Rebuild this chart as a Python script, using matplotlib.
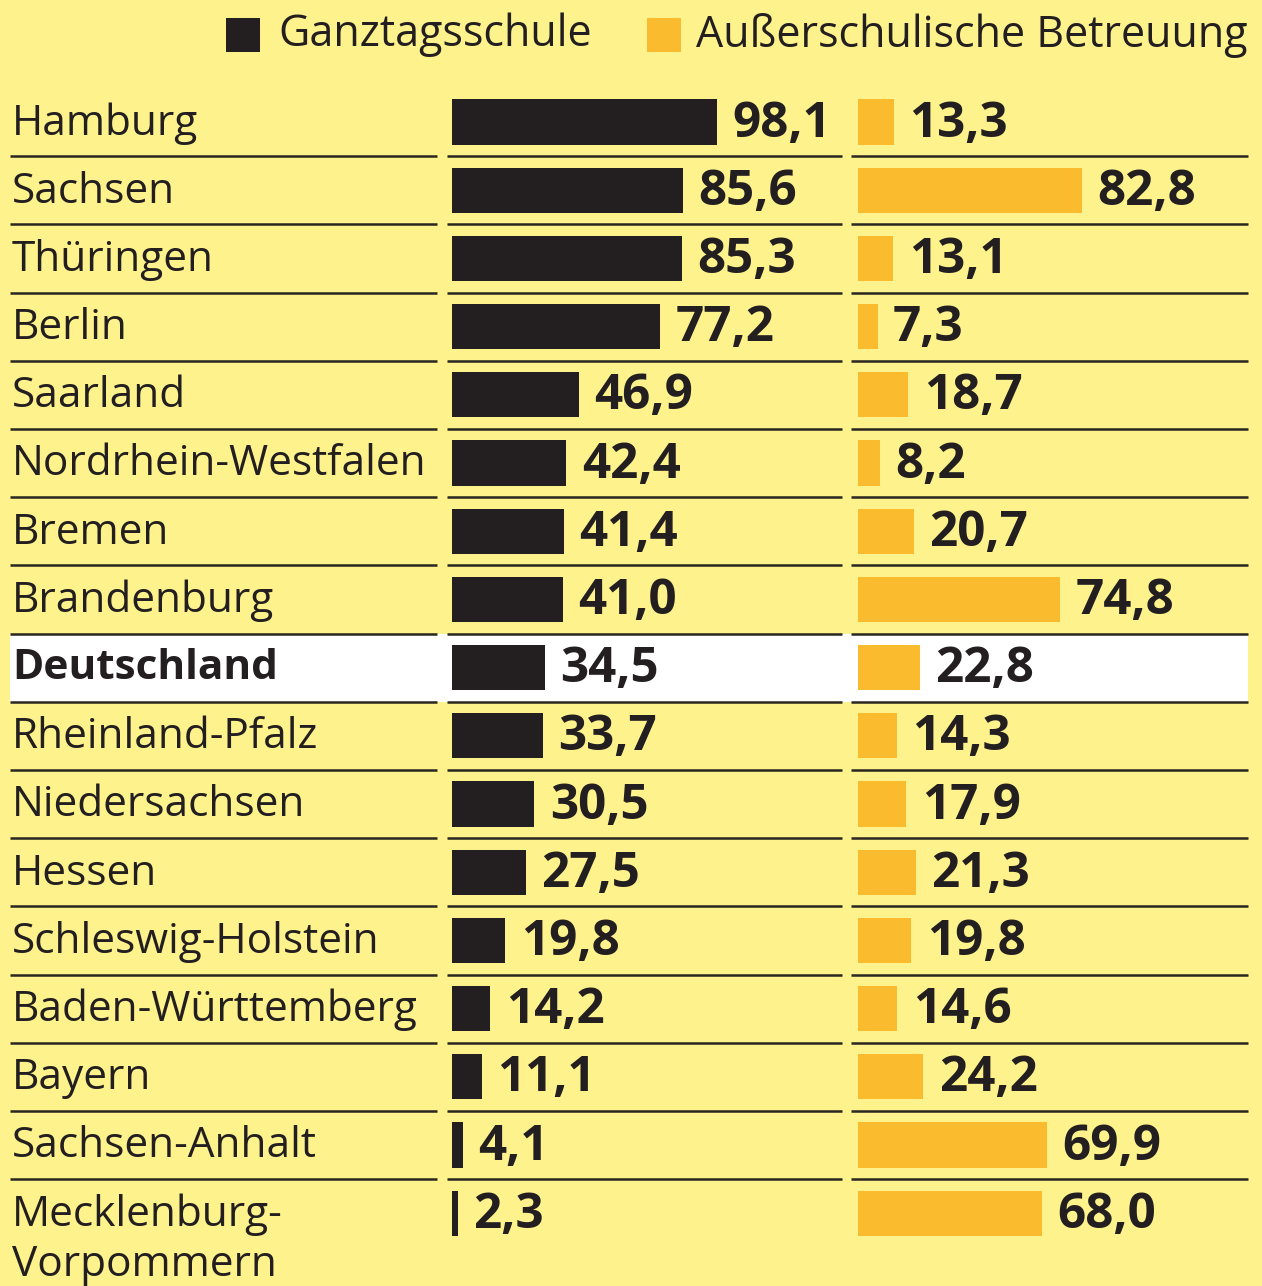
import matplotlib.pyplot as plt
from matplotlib.patches import Rectangle

# data
states = ['Hamburg', 'Sachsen', 'Thüringen', 'Berlin', 'Saarland',
          'Nordrhein-Westfalen', 'Bremen', 'Brandenburg', 'Deutschland',
          'Rheinland-Pfalz', 'Niedersachsen', 'Hessen', 'Schleswig-Holstein',
          'Baden-Württemberg', 'Bayern', 'Sachsen-Anhalt',
          'Mecklenburg-\nVorpommern']
ganztag = [98.1, 85.6, 85.3, 77.2, 46.9, 42.4, 41.4, 41.0, 34.5,
           33.7, 30.5, 27.5, 19.8, 14.2, 11.1, 4.1, 2.3]
ausser = [13.3, 82.8, 13.1, 7.3, 18.7, 8.2, 20.7, 74.8, 22.8,
          14.3, 17.9, 21.3, 19.8, 14.6, 24.2, 69.9, 68.0]
series_names = ['Ganztagsschule', 'Außerschulische Betreuung']
highlight = 'Deutschland'

BG = '#fdf28b'
BLACK = '#231f20'
ORANGE = '#fbbb2e'
LINE = '#2a2620'
FONT = 'Open Sans'
LABEL_SIZE = 30.5
VALUE_SIZE = 35.5

W, H = 1262, 1286
ROW0, STEP = 122, 68.2      # pixel centre of first row, row spacing
PX_PER_UNIT = 2.70

fig = plt.figure(figsize=(W / 100, H / 100), dpi=100, facecolor=BG)

n = len(states)
ytop = -ROW0 / STEP
ybot = (H - ROW0) / STEP

# background axes in pixel x-coordinates: labels, lines, legend
ax = fig.add_axes([0, 0, 1, 1])
ax.set_xlim(0, W)
ax.set_ylim(ybot, ytop)
ax.axis('off')

hi = states.index(highlight)
ax.add_patch(Rectangle((10, hi - 0.5), 1238, 1, facecolor='white', edgecolor='none', zorder=0))

for i in range(n - 1):
    for x0, x1 in [(10, 437), (447, 842), (851, 1248)]:
        ax.plot([x0, x1], [i + 0.5, i + 0.5], color=LINE, lw=1.8, solid_capstyle='butt', zorder=1)

for i, s in enumerate(states):
    bold = s == highlight
    if '\n' in s:
        first, second = s.split('\n')
        ax.text(12, i + 0.02, first, va='center', ha='left', fontsize=LABEL_SIZE, family=FONT, color=BLACK)
        ax.text(12, i + 0.76, second, va='center', ha='left', fontsize=LABEL_SIZE, family=FONT, color=BLACK)
    else:
        ax.text(12, i + 0.02, s, va='center', ha='left', fontsize=LABEL_SIZE, family=FONT,
                fontweight='bold' if bold else 'normal', color=BLACK)

# legend
leg_y = (35 - ROW0) / STEP
ax.add_patch(Rectangle((226, leg_y - 17 / STEP), 34, 34 / STEP, facecolor=BLACK, edgecolor='none'))
ax.text(278, leg_y, series_names[0], va='center', ha='left', fontsize=31, family=FONT, color=BLACK)
ax.add_patch(Rectangle((647, leg_y - 17 / STEP), 34, 34 / STEP, facecolor=ORANGE, edgecolor='none'))
ax.text(696, leg_y, series_names[1], va='center', ha='left', fontsize=31, family=FONT, color=BLACK)


def bar_axes(left_px, values, color):
    width_px = 390
    bax = fig.add_axes([left_px / W, 0, width_px / W, 1])
    bax.set_xlim(0, width_px / PX_PER_UNIT)
    bax.set_ylim(ybot, ytop)
    bax.axis('off')
    bax.patch.set_alpha(0)
    ys = list(range(n))
    bax.barh(ys, values, height=0.66, color=color, zorder=2)
    for y, v in zip(ys, values):
        bax.annotate(f'{v:.1f}'.replace('.', ','), (v, y + 0.03), xytext=(11, 0),
                     textcoords='offset points', va='center', ha='left',
                     fontsize=VALUE_SIZE, fontweight='bold', family=FONT, color=BLACK)
    return bax


bar_axes(452, ganztag, BLACK)
bar_axes(858, ausser, ORANGE)

fig.savefig('out.png', dpi=100, facecolor=BG)
